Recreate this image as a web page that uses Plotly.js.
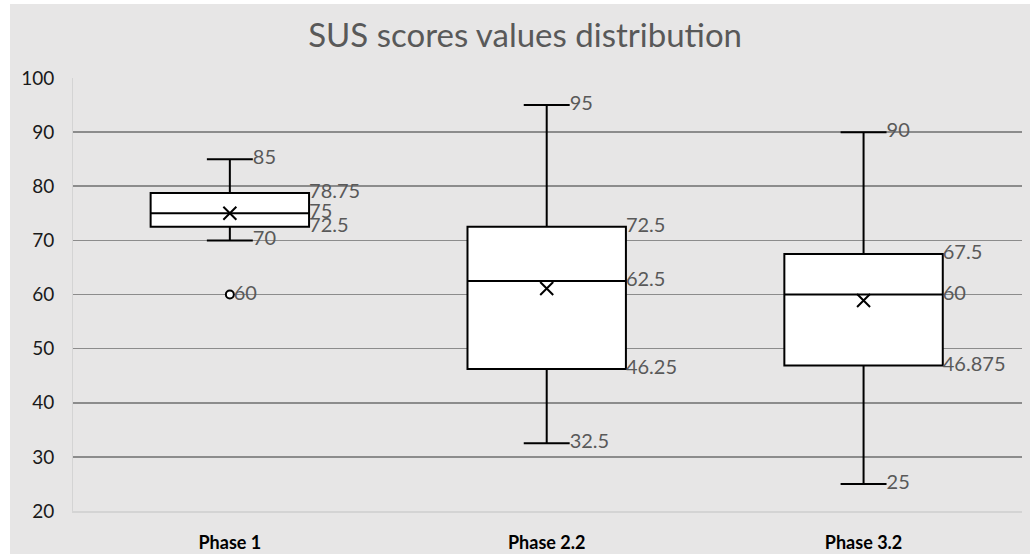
<!DOCTYPE html>
<html>
<head>
<meta charset="utf-8">
<script src="https://cdn.plot.ly/plotly-3.0.1.min.js"></script>
<style>
  html, body { margin: 0; padding: 0; background: #ffffff; width: 1030px; height: 554px; overflow: hidden; }
  #chart { position: absolute; left: 10px; top: 4px; width: 1020px; height: 550px; }
</style>
</head>
<body>
<div id="chart"></div>
<script>
// ---- data ----
const categories = ['Phase 1', 'Phase 2.2', 'Phase 3.2'];
const lowerWhisker = [70, 32.5, 25];
const q1Values = [72.5, 46.25, 46.875];
const medianValues = [75, 62.5, 60];
const q3Values = [78.75, 72.5, 67.5];
const upperWhisker = [85, 95, 90];
const meanValues = [75, 61.1, 58.9];
const outlierCategory = [0];
const outlierValues = [60];
const yTicks = [20, 30, 40, 50, 60, 70, 80, 90, 100];

// ---- style ----
const BOX_W = 0.5;
const CAP_W = 0.29;
const labelColor = '#595959';
const labelFont = { family: 'Lato, "Open Sans", sans-serif', size: 20, color: labelColor };
const pos = categories.map((c, i) => i);

const traces = [];

traces.push({
  type: 'box',
  x: pos,
  q1: q1Values,
  median: medianValues,
  q3: q3Values,
  lowerfence: lowerWhisker,
  upperfence: upperWhisker,
  width: BOX_W,
  whiskerwidth: CAP_W,
  boxpoints: false,
  fillcolor: '#ffffff',
  line: { color: '#000000', width: 2 },
  hoverinfo: 'skip',
  showlegend: false
});

// mean markers
traces.push({
  type: 'scatter', mode: 'markers',
  x: pos, y: meanValues,
  marker: { symbol: 'x-thin-open', size: 13, color: '#000', line: { color: '#000', width: 2 } },
  hoverinfo: 'skip', showlegend: false
});

// outliers
traces.push({
  type: 'scatter', mode: 'markers',
  x: outlierCategory, y: outlierValues,
  marker: { symbol: 'circle', size: 8, color: '#ffffff', line: { color: '#000', width: 2 } },
  hoverinfo: 'skip', showlegend: false
});

// quartile labels (at right edge of box)
const qx = [], qy = [], qt = [];
pos.forEach((p, i) => {
  [q3Values[i], medianValues[i], q1Values[i]].forEach(v => { qx.push(p + BOX_W / 2); qy.push(v); qt.push(String(v)); });
});
traces.push({
  type: 'scatter', mode: 'text', x: qx, y: qy, text: qt,
  textposition: 'middle right', textfont: labelFont, cliponaxis: false,
  hoverinfo: 'skip', showlegend: false
});

// whisker labels (at right end of cap)
const wx = [], wy = [], wt = [];
pos.forEach((p, i) => {
  [upperWhisker[i], lowerWhisker[i]].forEach(v => { wx.push(p + BOX_W * CAP_W / 2); wy.push(v); wt.push(String(v)); });
});
traces.push({
  type: 'scatter', mode: 'text', x: wx, y: wy, text: wt,
  textposition: 'middle right', textfont: labelFont, cliponaxis: false,
  hoverinfo: 'skip', showlegend: false
});

// outlier labels
traces.push({
  type: 'scatter', mode: 'text',
  x: outlierCategory.map(c => c + 0.012), y: outlierValues, text: outlierValues.map(String),
  textposition: 'middle right', textfont: labelFont, cliponaxis: false,
  hoverinfo: 'skip', showlegend: false
});

const layout = {
  width: 1020, height: 550,
  paper_bgcolor: '#e7e6e6',
  plot_bgcolor: '#e7e6e6',
  margin: { l: 63, r: 8, t: 74, b: 43, pad: 0 },
  showlegend: false,
  title: {
    text: 'SUS scores values distribution',
    font: { family: 'Lato, "Open Sans", sans-serif', size: 33, color: '#595959' },
    xref: 'container', x: 0.505, xanchor: 'center',
    yref: 'container', y: 1 - 31 / 550, yanchor: 'middle'
  },
  xaxis: {
    range: [-0.495, 2.5],
    tickmode: 'array', tickvals: pos, ticktext: categories,
    tickfont: { family: 'Lato, "Open Sans", sans-serif', size: 18, color: '#000000', weight: 'bold' },
    showgrid: false, zeroline: false,
    showline: true, linecolor: '#d4d4d4', linewidth: 2,
    ticks: '', ticklabelstandoff: 14,
    fixedrange: true
  },
  yaxis: {
    range: [20, 100],
    tickmode: 'array', tickvals: yTicks, ticktext: yTicks.map(String),
    tickfont: { family: 'Lato, "Open Sans", sans-serif', size: 19, color: '#1a1a1a' },
    showgrid: true, gridcolor: '#8c8c8c', gridwidth: 1.6,
    zeroline: false,
    showline: true, linecolor: '#d4d4d4', linewidth: 1,
    ticks: '', ticklabelstandoff: 14,
    fixedrange: true
  }
};

Plotly.newPlot('chart', traces, layout, { displayModeBar: false, staticPlot: true });
</script>
</body>
</html>
